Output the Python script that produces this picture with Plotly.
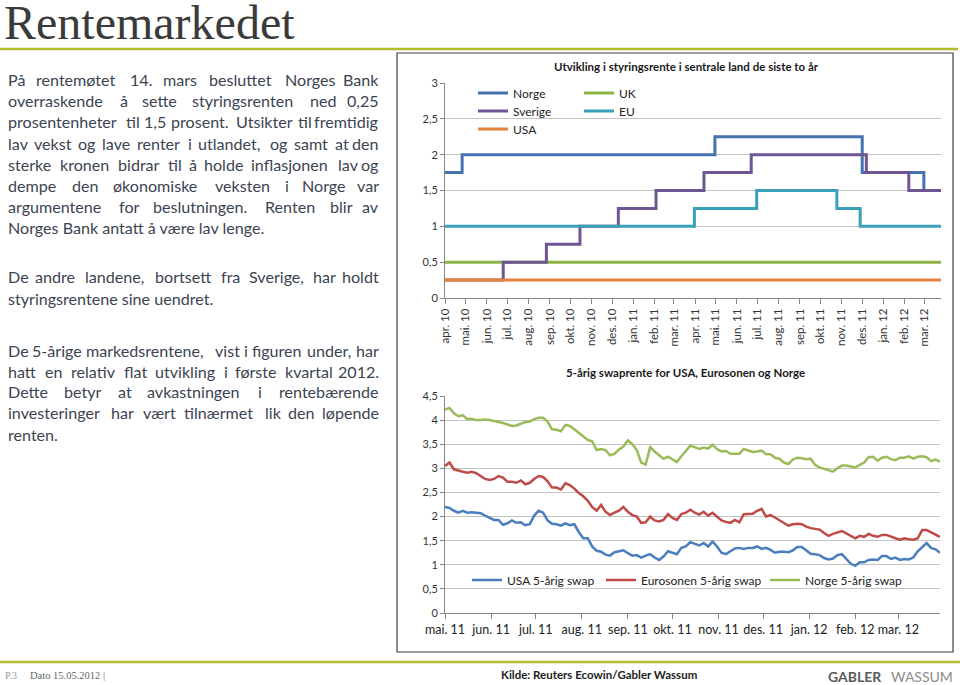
import plotly.graph_objects as go
import pandas as pd

W, H = 960, 685
SANS = "Lato"
SERIF = "Liberation Serif"


def px(x):
    return x / W


def py(y):
    return 1 - y / H


# ---------------- Chart 1 data: policy rates (step series) ----------------
norge_dates = ["2010-04-01", "2010-04-26", "2011-04-30", "2011-12-01", "2012-02-29", "2012-03-25"]
norge_vals = [1.75, 2.0, 2.25, 1.75, 1.5, 1.5]

sverige_dates = ["2010-04-01", "2010-06-25", "2010-08-27", "2010-10-15", "2010-12-10", "2011-02-03",
                 "2011-04-14", "2011-06-22", "2011-12-07", "2012-02-07", "2012-03-25"]
sverige_vals = [0.25, 0.5, 0.75, 1.0, 1.25, 1.5, 1.75, 2.0, 1.75, 1.5, 1.5]

eu_dates = ["2010-04-01", "2011-03-31", "2011-06-30", "2011-10-25", "2011-11-28", "2012-03-25"]
eu_vals = [1.0, 1.25, 1.5, 1.25, 1.0, 1.0]

uk_dates = ["2010-04-01", "2012-03-25"]
uk_vals = [0.5, 0.5]

usa_dates = ["2010-04-01", "2012-03-25"]
usa_vals = [0.25, 0.25]

c1_tick_dates = ["2010-04-01", "2010-05-01", "2010-06-01", "2010-07-01", "2010-08-01", "2010-09-01",
                 "2010-10-01", "2010-11-01", "2010-12-01", "2011-01-01", "2011-02-01", "2011-03-01",
                 "2011-04-01", "2011-05-01", "2011-06-01", "2011-07-01", "2011-08-01", "2011-09-01",
                 "2011-10-01", "2011-11-01", "2011-12-01", "2012-01-01", "2012-02-01", "2012-03-01"]
c1_tick_labels = ["apr. 10", "mai. 10", "jun. 10", "jul. 10", "aug. 10", "sep. 10", "okt. 10", "nov. 10",
                  "des. 10", "jan. 11", "feb. 11", "mar. 11", "apr. 11", "mai. 11", "jun. 11", "jul. 11",
                  "aug. 11", "sep. 11", "okt. 11", "nov. 11", "des. 11", "jan. 12", "feb. 12", "mar. 12"]
c1_y_ticks = [0, 0.5, 1, 1.5, 2, 2.5, 3]
c1_y_labels = ["0", "0,5", "1", "1,5", "2", "2,5", "3"]

# ---------------- Chart 2 data: 5-year swap rates ----------------
swap_dates = pd.date_range("2011-05-01", periods=112, freq="3D")

norge_swap = [4.22, 4.25, 4.14, 4.08, 4.10, 4.02, 4.03, 4.00, 4.00, 4.01,
              4.00, 3.98, 3.97, 3.94, 3.91, 3.88, 3.89, 3.92, 3.96, 3.97,
              4.02, 4.05, 4.05, 3.97, 3.81, 3.80, 3.77, 3.90, 3.88, 3.81,
              3.74, 3.67, 3.59, 3.56, 3.38, 3.40, 3.38, 3.27, 3.30, 3.39,
              3.45, 3.58, 3.50, 3.38, 3.12, 3.08, 3.44, 3.35, 3.28, 3.20,
              3.24, 3.19, 3.13, 3.25, 3.36, 3.47, 3.44, 3.40, 3.43, 3.41,
              3.49, 3.40, 3.35, 3.36, 3.30, 3.30, 3.30, 3.40, 3.37, 3.34,
              3.35, 3.37, 3.29, 3.29, 3.22, 3.20, 3.12, 3.09, 3.18, 3.22,
              3.21, 3.19, 3.20, 3.07, 3.02, 2.99, 2.96, 2.93, 3.00, 3.06,
              3.06, 3.04, 3.02, 3.07, 3.12, 3.23, 3.24, 3.16, 3.22, 3.24,
              3.19, 3.17, 3.22, 3.22, 3.25, 3.20, 3.24, 3.25, 3.23, 3.15,
              3.18, 3.14]

euro_swap = [3.05, 3.12, 2.98, 2.95, 2.93, 2.91, 2.93, 2.90, 2.84, 2.78,
             2.76, 2.78, 2.84, 2.81, 2.72, 2.72, 2.70, 2.75, 2.67, 2.70,
             2.78, 2.84, 2.82, 2.73, 2.60, 2.60, 2.56, 2.69, 2.65, 2.58,
             2.49, 2.42, 2.33, 2.20, 2.12, 2.24, 2.10, 2.03, 2.08, 2.12,
             2.20, 2.10, 2.03, 2.00, 1.87, 1.88, 2.00, 1.92, 1.90, 1.93,
             2.05, 1.97, 1.93, 2.05, 2.08, 2.14, 2.08, 2.04, 2.10, 2.02,
             2.08, 2.00, 1.92, 1.89, 1.87, 1.93, 1.88, 2.05, 2.05, 2.06,
             2.12, 2.16, 2.00, 2.03, 1.98, 1.92, 1.86, 1.81, 1.84, 1.85,
             1.84, 1.79, 1.76, 1.74, 1.73, 1.66, 1.60, 1.64, 1.67, 1.70,
             1.65, 1.60, 1.55, 1.60, 1.58, 1.64, 1.60, 1.58, 1.62, 1.62,
             1.58, 1.55, 1.52, 1.55, 1.53, 1.52, 1.55, 1.72, 1.72, 1.67,
             1.63, 1.58]

usa_swap = [2.20, 2.18, 2.12, 2.08, 2.12, 2.08, 2.09, 2.08, 2.07, 2.02,
            1.98, 1.93, 1.93, 1.83, 1.86, 1.92, 1.87, 1.88, 1.82, 1.84,
            2.02, 2.12, 2.08, 1.92, 1.85, 1.84, 1.81, 1.86, 1.82, 1.84,
            1.68, 1.55, 1.55, 1.38, 1.29, 1.27, 1.21, 1.19, 1.26, 1.28,
            1.30, 1.24, 1.19, 1.20, 1.15, 1.19, 1.22, 1.15, 1.10, 1.17,
            1.28, 1.25, 1.22, 1.35, 1.38, 1.47, 1.43, 1.40, 1.45, 1.38,
            1.48, 1.38, 1.25, 1.22, 1.28, 1.34, 1.35, 1.33, 1.35, 1.35,
            1.38, 1.33, 1.35, 1.31, 1.25, 1.27, 1.27, 1.26, 1.30, 1.37,
            1.37, 1.30, 1.23, 1.22, 1.20, 1.14, 1.11, 1.13, 1.20, 1.22,
            1.12, 1.02, 0.98, 1.05, 1.05, 1.10, 1.11, 1.10, 1.18, 1.18,
            1.12, 1.15, 1.10, 1.12, 1.11, 1.15, 1.28, 1.36, 1.45, 1.35,
            1.32, 1.25]

c2_tick_dates = ["2011-05-01", "2011-06-01", "2011-07-01", "2011-08-01", "2011-09-01", "2011-10-01",
                 "2011-11-01", "2011-12-01", "2012-01-01", "2012-02-01", "2012-03-01"]
c2_tick_labels = ["mai. 11", "jun. 11", "jul. 11", "aug. 11", "sep. 11", "okt. 11", "nov. 11",
                  "des. 11", "jan. 12", "feb. 12", "mar. 12"]
c2_y_ticks = [0, 0.5, 1, 1.5, 2, 2.5, 3, 3.5, 4, 4.5]
c2_y_labels = ["0", "0,5", "1", "1,5", "2", "2,5", "3", "3,5", "4", "4,5"]

# ---------------- Page text ----------------
page_title = "Rentemarkedet"
chart1_title = "Utvikling i styringsrente i sentrale land de siste to år"
chart2_title = "5-årig swaprente for USA, Eurosonen og Norge"
source_text = "Kilde: Reuters Ecowin/Gabler Wassum"

# (text, y-center in px, justified?)
body_lines = [
    ("På rentemøtet 14. mars besluttet Norges Bank", 80, True),
    ("overraskende å sette styringsrenten ned 0,25", 101, True),
    ("prosentenheter til 1,5 prosent. Utsikter til fremtidig", 122, True),
    ("lav vekst og lave renter i utlandet, og samt at den", 143, True),
    ("sterke kronen bidrar til å holde inflasjonen lav og", 164, True),
    ("dempe den økonomiske veksten i Norge var", 185, True),
    ("argumentene for beslutningen. Renten blir av", 206, True),
    ("Norges Bank antatt å være lav lenge.", 227, False),
    ("De andre landene, bortsett fra Sverige, har holdt", 277, True),
    ("styringsrentene sine uendret.", 298, False),
    ("De 5-årige markedsrentene, vist i figuren under, har", 350, True),
    ("hatt en relativ flat utvikling i første kvartal 2012.", 371, True),
    ("Dette betyr at avkastningen i rentebærende", 392, True),
    ("investeringer har vært tilnærmet lik den løpende", 413, True),
    ("renten.", 434, False),
]

# approximate advance widths (em) of the original's font, used to space justified words
CAL = {' ': 0.226, 'a': 0.479, 'b': 0.525, 'c': 0.423, 'd': 0.525, 'e': 0.498, 'f': 0.305,
       'g': 0.471, 'h': 0.525, 'i': 0.229, 'j': 0.239, 'k': 0.455, 'l': 0.229, 'm': 0.799,
       'n': 0.525, 'o': 0.527, 'p': 0.525, 'q': 0.525, 'r': 0.349, 's': 0.391, 't': 0.335,
       'u': 0.525, 'v': 0.452, 'w': 0.715, 'x': 0.433, 'y': 0.453, 'z': 0.395, 'æ': 0.773,
       'ø': 0.527, 'å': 0.479, 'P': 0.517, 'U': 0.653, 'N': 0.646, 'B': 0.544, 'R': 0.543,
       'D': 0.615, 'S': 0.459, ',': 0.25, '.': 0.252, '-': 0.306}
REF_FS = 17.9
TEXT_L, TEXT_R = 6, 381
BODY_COLOR = "#3b4452"
BODY_FS = 16.1


def wwidth(w):
    return sum(CAL.get(c, 0.507) for c in w) * REF_FS


annotations = []


def add_text(x, y, text, size, color, family=SANS, xanchor="left", yanchor="middle"):
    annotations.append(dict(x=px(x), y=py(y), xref="paper", yref="paper", text=text,
                            showarrow=False, xanchor=xanchor, yanchor=yanchor,
                            font=dict(family=family, size=size, color=color)))


for text, yc, just in body_lines:
    if not just:
        add_text(TEXT_L, yc, text, BODY_FS, BODY_COLOR)
        continue
    words = text.split(" ")
    widths = [wwidth(w) for w in words]
    gap = (TEXT_R - TEXT_L - sum(widths)) / (len(words) - 1)
    x = TEXT_L
    for i, w in enumerate(words):
        if i == len(words) - 1:
            add_text(TEXT_R, yc, w, BODY_FS, BODY_COLOR, xanchor="right")
        else:
            add_text(x, yc, w, BODY_FS, BODY_COLOR)
        x += widths[i] + gap

add_text(2, 22, page_title, 48, "#3a3a3a", family=SERIF)
add_text(686, 66, "<b>" + chart1_title + "</b>", 11.5, "#1a1a1a", xanchor="center")
add_text(685, 372, "<b>" + chart2_title + "</b>", 11.5, "#1a1a1a", xanchor="center")
add_text(3, 675, "P.3", 10, "#9a9a9a", family=SERIF)
add_text(28, 675, "Dato 15.05.2012 |", 10.5, "#666666", family=SERIF)
add_text(599, 674, "<b>" + source_text + "</b>", 11.5, "#222222", xanchor="center")
add_text(826, 676, "<b>GABLER</b>", 14, "#5a5a5a")
add_text(955, 676, "WASSUM", 14, "#8c8c8c", xanchor="right")

# ---------------- Figure ----------------
fig = go.Figure()

c1_series = [
    ("Norge", norge_dates, norge_vals, "#4472b0", "legend"),
    ("UK", uk_dates, uk_vals, "#8cb446", "legend4"),
    ("Sverige", sverige_dates, sverige_vals, "#6e5594", "legend2"),
    ("EU", eu_dates, eu_vals, "#3a9fb8", "legend5"),
    ("USA", usa_dates, usa_vals, "#e7823d", "legend3"),
]
for name, xs, ys, col, lg in c1_series:
    fig.add_trace(go.Scatter(x=xs, y=ys, name=name, mode="lines",
                             line=dict(color=col, width=3, shape="hv"),
                             xaxis="x", yaxis="y", legend=lg))

c2_series = [
    ("USA 5-årig swap", usa_swap, "#4a7ebf", "legend6"),
    ("Eurosonen 5-årig swap", euro_swap, "#be4b48", "legend7"),
    ("Norge 5-årig swap", norge_swap, "#9bbb59", "legend8"),
]
for name, ys, col, lg in c2_series:
    fig.add_trace(go.Scatter(x=swap_dates, y=ys, name=name, mode="lines",
                             line=dict(color=col, width=2.5),
                             xaxis="x2", yaxis="y2", legend=lg))


def leg(text_x, yc):
    return dict(x=px(text_x - 40), y=py(yc), xref="paper", yref="paper", xanchor="left",
                yanchor="middle", bgcolor="rgba(0,0,0,0)", borderwidth=0, itemwidth=30,
                font=dict(family=SANS, size=12, color="#222222"))


AX = "#868686"
GRID = "#c3c3c3"
TICKF = dict(family=SANS, size=11, color="#333333")

shapes = [
    dict(type="line", xref="paper", yref="paper", x0=0, x1=px(958), y0=py(49), y1=py(49),
         line=dict(color="#b3bc2a", width=2.5)),
    dict(type="line", xref="paper", yref="paper", x0=0, x1=1, y0=py(662), y1=py(662),
         line=dict(color="#b3bc2a", width=2.5)),
    dict(type="rect", xref="paper", yref="paper", x0=px(397), x1=px(953), y0=py(652), y1=py(53),
         line=dict(color="#404040", width=1.2)),
]

fig.update_layout(
    width=W, height=H, margin=dict(l=0, r=0, t=0, b=0, autoexpand=False),
    paper_bgcolor="white", plot_bgcolor="white", showlegend=True,
    xaxis=dict(domain=[px(445), px(941)], type="date", range=["2010-04-01", "2012-03-25"],
               tickvals=c1_tick_dates, ticktext=c1_tick_labels, tickangle=-90,
               ticks="outside", ticklen=5, tickcolor=AX, showline=True, linecolor=AX,
               showgrid=False, zeroline=False, anchor="y", automargin=False,
               tickfont=dict(family=SANS, size=11.5, color="#333333")),
    yaxis=dict(domain=[py(298), py(83)], range=[0, 3], tickvals=c1_y_ticks, ticktext=c1_y_labels,
               ticks="outside", ticklen=4, tickcolor=AX, showline=True, linecolor=AX,
               showgrid=True, gridcolor=GRID, zeroline=False, anchor="x", automargin=False,
               tickfont=TICKF),
    xaxis2=dict(domain=[px(445), px(940)], type="date", range=["2011-05-01", "2012-03-29"],
                tickvals=c2_tick_dates, ticktext=c2_tick_labels, tickangle=0,
                ticks="outside", ticklen=5, tickcolor=AX, showline=True, linecolor=AX,
                showgrid=False, zeroline=False, anchor="y2", automargin=False,
                tickfont=dict(family=SANS, size=12.5, color="#222222")),
    yaxis2=dict(domain=[py(613), py(396)], range=[0, 4.5], tickvals=c2_y_ticks, ticktext=c2_y_labels,
                ticks="outside", ticklen=4, tickcolor=AX, showline=True, linecolor=AX,
                showgrid=True, gridcolor=GRID, zeroline=False, anchor="x2", automargin=False,
                tickfont=TICKF),
    legend=leg(513, 93), legend2=leg(513, 111), legend3=leg(513, 129),
    legend4=leg(619, 93), legend5=leg(619, 111),
    legend6=leg(507, 580), legend7=leg(641, 580), legend8=leg(805, 580),
    annotations=annotations, shapes=shapes,
)

fig.write_html("out.html", config={"displayModeBar": False},
               post_script="document.body.style.margin='0';document.body.style.overflow='hidden';")
